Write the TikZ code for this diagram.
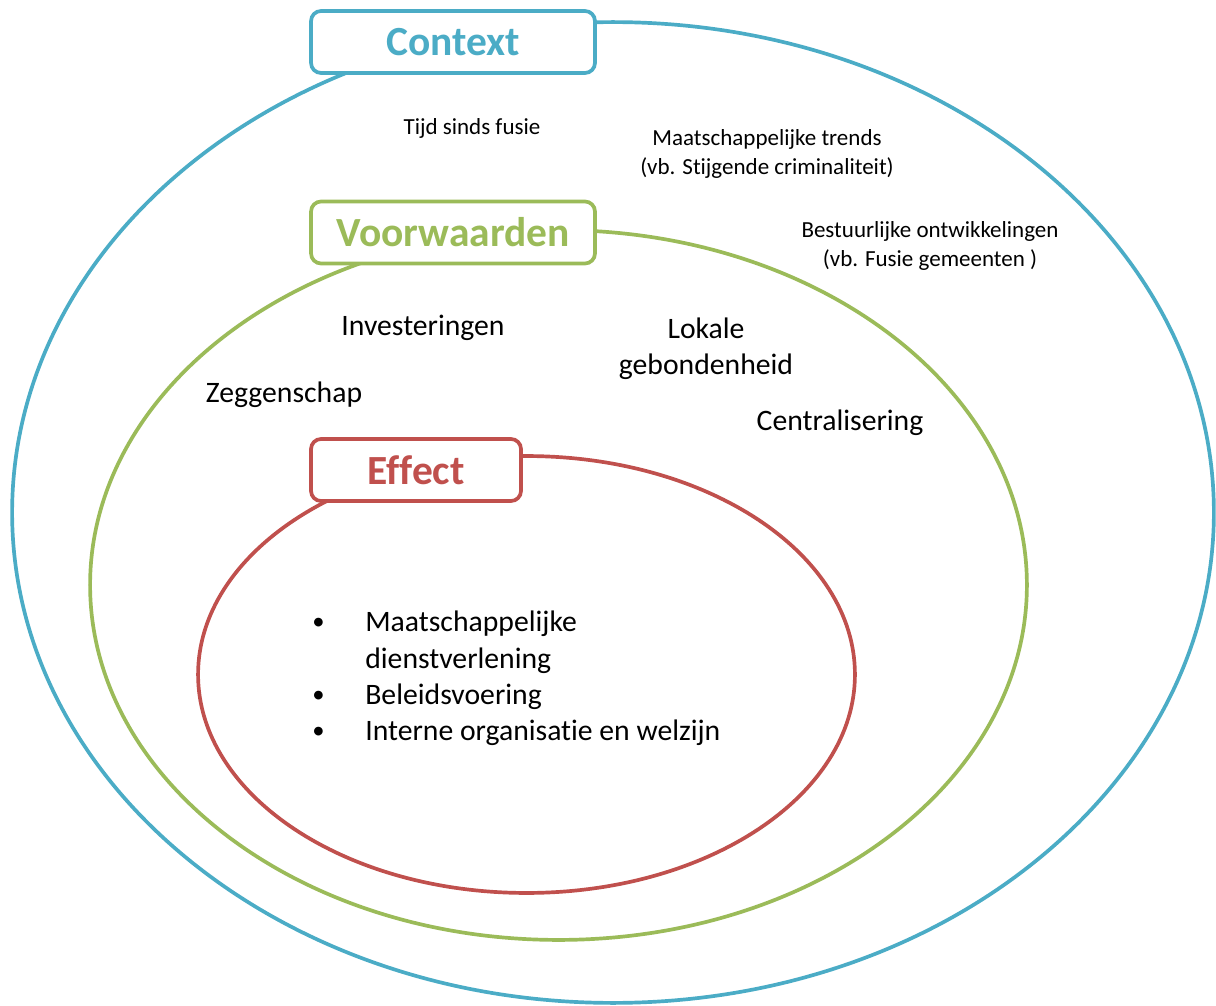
\documentclass[tikz,border=0pt]{standalone}
\usepackage{fontspec}
\setmainfont{Carlito}[Ligatures=NoCommon]
\usepackage{tikz}
\usetikzlibrary{positioning,shapes.geometric}
\definecolor{ctxblue}{HTML}{4BACC6}
\definecolor{condgreen}{HTML}{9BBB59}
\definecolor{effred}{HTML}{C0504D}
\newcommand{\bulletitem}{\makebox[1.06cm][l]{\raisebox{0.15ex}{\fontsize{14}{16}\selectfont•}}}

\begin{document}
\begin{tikzpicture}[
  x=0.02cm, y=-0.02cm,
  ring/.style={ellipse, draw, line width=2.1pt, inner sep=0pt},
  tagbox/.style={rectangle, draw, fill=white, rounded corners=0.2cm, line width=2.1pt, minimum width=5.68cm, minimum height=1.24cm, font=\fontsize{23.6}{28}\selectfont\bfseries},
  small/.style={align=center, font=\fontsize{13.1}{16}\selectfont},
  big/.style={align=center, font=\fontsize{16.9}{20.6}\selectfont}
]
  \useasboundingbox (0,0) rectangle (1216,1006);

  % Ellipses
  \node[ring, draw=ctxblue, minimum width=24.04cm, minimum height=19.62cm] (ctxring) at (613,512.5) {};
  \node[ring, draw=condgreen, minimum width=18.74cm, minimum height=14.2cm] (condring) at (558.5,585) {};
  \node[ring, draw=effred, minimum width=13.14cm, minimum height=8.74cm] (effring) at (526.5,674.5) {};

  % Titles
  \node[tagbox, draw=ctxblue, text=ctxblue] (context) at (453,42) {\raisebox{-0.1ex}{Context}};
  \node[tagbox, draw=condgreen, text=condgreen] (voorwaarden) at (453,232.5) {\raisebox{-0.1ex}{Voorwaarden}};
  \node[tagbox, draw=effred, text=effred, minimum width=4.2cm] (effect) at (416,470) {\raisebox{-0.1ex}{Effect}};

  % Context factors
  \node[small] (tijd) at (472,128) {Tijd sinds fusie};
  \node[small] (trends) at (767,154) {Maatschappelijke trends\\(vb. Stijgende criminaliteit)};
  \node[small] (bestuur) at (930,246) {Bestuurlijke ontwikkelingen\\(vb. Fusie gemeenten )};

  % Conditions
  \node[big] (invest) at (423,328) {Investeringen};
  \node[big] (lokaal) at (706,349) {Lokale\\gebondenheid};
  \node[big] (zeggen) at (284,395) {Zeggenschap};
  \node[big] (central) at (840,423) {Centralisering};

  % Effects
  \node[big, align=left, anchor=north west, inner sep=0pt] (effects) at (312,611) {%
    \bulletitem Maatschappelijke\\
    \makebox[1.06cm][l]{}dienstverlening\\
    \bulletitem Beleidsvoering\\
    \bulletitem Interne organisatie en welzijn};
\end{tikzpicture}
\end{document}
